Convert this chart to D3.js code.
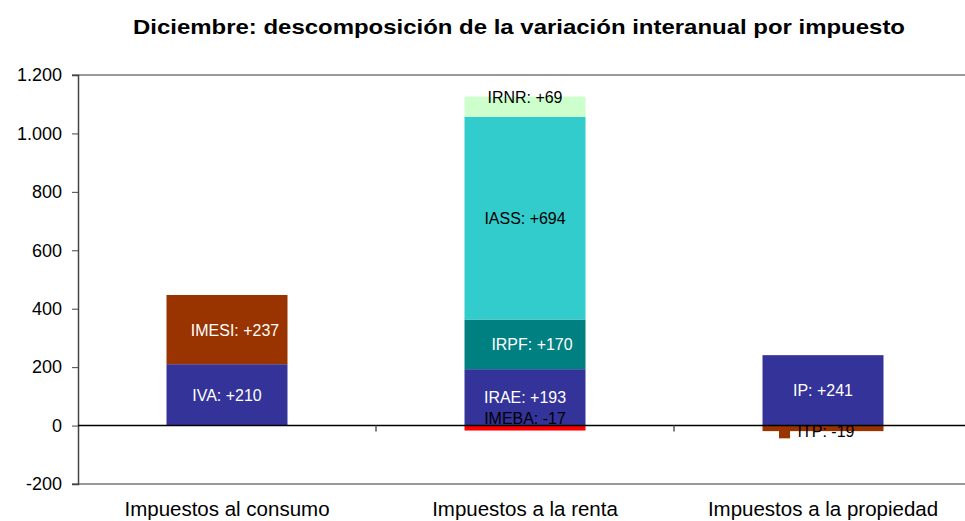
<!DOCTYPE html>
<html>
<head>
<meta charset="utf-8">
<script src="https://cdn.jsdelivr.net/npm/d3@7"></script>
<style>
  body { margin: 0; background: #fff; }
  text { font-family: "Liberation Sans", Arial, sans-serif; }
</style>
</head>
<body>
<script>
// categories and values
var categories = ["Impuestos al consumo", "Impuestos a la renta", "Impuestos a la propiedad"];
var taxes      = ["IVA", "IMESI", "IMEBA", "IRAE", "IRPF", "IASS", "IRNR", "IP", "ITP"];
var taxGroup   = [0, 0, 1, 1, 1, 1, 1, 2, 2];
var taxValues  = [210, 237, -17, 193, 170, 694, 69, 241, -19];
var yTicks     = [-200, 0, 200, 400, 600, 800, 1000, 1200];
var title = "Diciembre: descomposición de la variación interanual por impuesto";

// styles
var taxColors = ["#333399", "#993300", "#ff0000", "#333399", "#008080", "#33cccc", "#ccffcc", "#333399", "#993300"];
var labelColors = ["#fff", "#fff", "#000", "#fff", "#fff", "#000", "#000", "#fff", "#000"];
// label nudges (px) where excel moved the label off the segment centre
var labelDx = [0, 8, 0, 0, 7, 0, 0, 0, 3];
var labelDy = [0, 0, -10, 0, 0, 0, -10, 0, 3];

var W = 965, H = 521;
var margin = {top: 75, left: 78, bottom: 37};
var plotRight = 972;

var svg = d3.select("body").append("svg")
    .attr("width", W)
    .attr("height", H);

var x = d3.scaleBand()
    .domain(d3.range(categories.length))
    .range([margin.left, plotRight])
    .paddingInner(0.594)
    .paddingOuter(0.297);

var y = d3.scaleLinear()
    .domain([-200, 1200])
    .range([H - margin.bottom, margin.top]);

// stack each group: positives up from 0, negatives down
var pos = [0, 0, 0], neg = [0, 0, 0];
var segs = taxes.map(function(t, i) {
  var g = taxGroup[i], v = taxValues[i], y0, y1;
  if (v >= 0) { y0 = pos[g]; y1 = pos[g] + v; pos[g] = y1; }
  else { y1 = neg[g]; y0 = neg[g] + v; neg[g] = y0; }
  return {name: t, group: g, value: v, y0: y0, y1: y1, i: i};
});

// title
svg.append("text")
    .attr("x", 519)
    .attr("y", 34)
    .attr("text-anchor", "middle")
    .attr("textLength", 772)
    .attr("lengthAdjust", "spacingAndGlyphs")
    .style("font-weight", "bold")
    .style("font-size", "21px")
    .text(title);

// top & bottom frame lines
[1200, -200].forEach(function(v) {
  svg.append("line")
      .attr("x1", margin.left - 6).attr("x2", W)
      .attr("y1", y(v)).attr("y2", y(v))
      .style("stroke", "#999").style("stroke-width", 2);
});

// y axis
var yAxis = d3.axisLeft(y)
    .tickValues(yTicks)
    .tickSize(6)
    .tickFormat(function(d) { return d3.format(",")(d).replace(/,/g, ".").replace("\u2212", "-"); });

var gy = svg.append("g")
    .attr("transform", "translate(" + margin.left + ",0)")
    .call(yAxis);
gy.select(".domain").style("stroke", "#444").style("stroke-width", 1.5);
gy.selectAll(".tick line").style("stroke", "#444");
gy.selectAll(".tick text")
    .attr("x", -16)
    .style("font-size", "18px")
    .style("fill", "#000")
    .style("font-family", "'Liberation Sans', Arial, sans-serif");

// bars
svg.selectAll(".seg")
    .data(segs)
  .enter().append("rect")
    .attr("class", "seg")
    .attr("x", function(d) { return x(d.group); })
    .attr("width", x.bandwidth())
    .attr("y", function(d) { return y(d.y1); })
    .attr("height", function(d) { return y(d.y0) - y(d.y1); })
    .style("fill", function(d) { return taxColors[d.i]; });

// zero line
svg.append("line")
    .attr("x1", margin.left).attr("x2", W)
    .attr("y1", y(0)).attr("y2", y(0))
    .style("stroke", "#000").style("stroke-width", 1.5);

// category separators on the zero line
d3.range(1, categories.length).forEach(function(k) {
  var xs = x(k) - x.step() * x.paddingInner() / 2;
  svg.append("line")
      .attr("x1", xs).attr("x2", xs)
      .attr("y1", y(0)).attr("y2", y(0) + 6)
      .style("stroke", "#555").style("stroke-width", 1.5);
});

// data labels
var lab = svg.selectAll(".lab")
    .data(segs)
  .enter().append("g")
    .attr("class", "lab")
    .attr("transform", function(d) {
      var cx = x(d.group) + x.bandwidth() / 2 + labelDx[d.i];
      var cy = y((d.y0 + d.y1) / 2) + labelDy[d.i];
      return "translate(" + cx + "," + cy + ")";
    });

lab.append("text")
    .attr("text-anchor", "middle")
    .attr("dy", "0.35em")
    .attr("transform", "scale(0.94,1)")
    .style("font-size", "17px")
    .style("fill", function(d) { return labelColors[d.i]; })
    .text(function(d) { return d.name + ": " + (d.value > 0 ? "+" : "") + d.value; });

// ITP label carries a small legend key
lab.filter(function(d) { return d.name === "ITP"; })
  .append("rect")
    .attr("x", -47).attr("y", -4)
    .attr("width", 11).attr("height", 11)
    .style("fill", function(d) { return taxColors[d.i]; });

// category labels
svg.selectAll(".cat")
    .data(categories)
  .enter().append("text")
    .attr("class", "cat")
    .attr("transform", function(d, i) {
      return "translate(" + (x(i) + x.bandwidth() / 2) + ",516)";
    })
    .attr("text-anchor", "middle")
    .style("font-size", "20.5px")
    .text(function(d) { return d; });
</script>
</body>
</html>
